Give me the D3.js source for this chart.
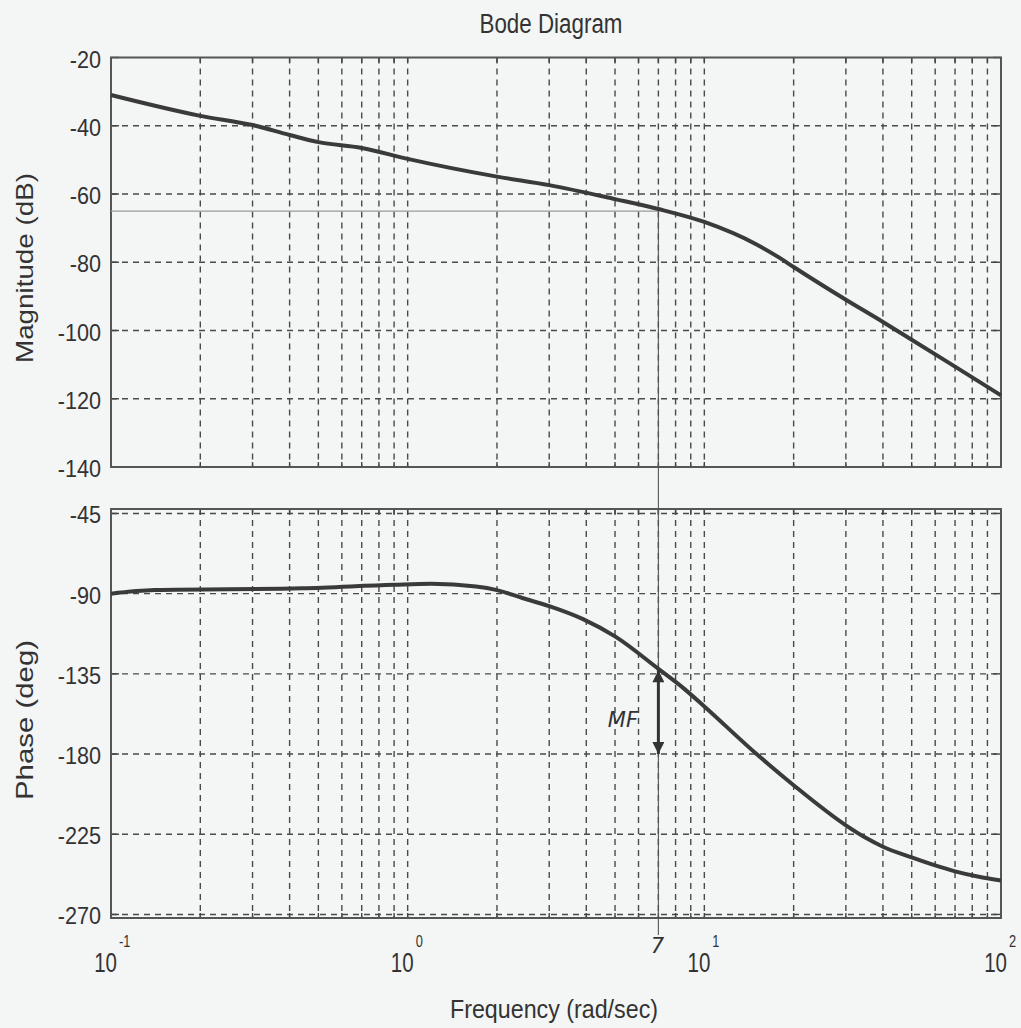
<!DOCTYPE html>
<html>
<head>
<meta charset="utf-8">
<script src="https://cdn.jsdelivr.net/npm/d3@7"></script>
<style>
  body { margin: 0; background: #f3f6f5; }
  svg { display: block; }
  text { font-family: "Liberation Sans", Arial, sans-serif; fill: #333; }
</style>
</head>
<body>
<script>
// page size
var w = 1021;
var h = 1028;

// Magnitude curve
var magFreq = [0.1, 0.2, 0.3, 0.4, 0.5, 0.7, 1, 2, 3, 5, 7, 10, 15, 18, 20, 30, 40, 50, 70, 100];
var magDb = [-31, -37.1, -39.8, -42.7, -44.8, -46.5, -49.7, -54.9, -57.4, -61.5, -64.4, -68.2, -74.8, -78.8, -81.4, -91, -97.5, -102.7, -110.6, -119];

// Phase curve
var phaseFreq = [0.1, 0.14, 0.44, 0.9, 1.2, 1.7, 2, 2.45, 3, 3.9, 5, 7, 8.5, 10, 15, 20, 30, 35, 40, 50, 60, 70, 85, 100];
var phaseDeg = [-90, -88, -87, -85, -84.5, -86, -88, -92.6, -97, -104.3, -114, -132.2, -143, -153.3, -180, -197.5, -220, -227, -232, -238, -242.5, -245.8, -249, -251];

// Ticks
var magTicks = [-20, -40, -60, -80, -100, -120, -140];
var phaseTicks = [-45, -90, -135, -180, -225, -270];
var decadeExps = [-1, 0, 1, 2];

// crossover marks
var wc = 7;
var magAtWc = -65;
var mfTop = -133;
var mfBottom = -180;

var left = 111, right = 1001;
var magTop = 57.5, magBottom = 467;
var phTop = 509, phBottom = 918;

var svg = d3.select("body").append("svg")
    .attr("width", w)
    .attr("height", h);

var x = d3.scaleLog().domain([0.1, 100]).range([left, right]);
var yMag = d3.scaleLinear().domain([-140, -20]).range([magBottom, magTop]);
var yPh = d3.scaleLinear().domain([-272, -42.5]).range([phBottom, phTop]);

// the scanned fonts are narrow: squeeze text horizontally
function squeeze(sel, k) {
    sel.each(function () {
        var t = d3.select(this);
        t.attr("textLength", this.getComputedTextLength() * k)
            .attr("lengthAdjust", "spacingAndGlyphs");
    });
}

// minor + major frequencies for vertical grid
var gridFreqs = [];
[0.1, 1, 10].forEach(function (dec) {
    for (var k = 1; k <= 9; k++) gridFreqs.push(dec * k);
});
gridFreqs = gridFreqs.filter(function (f) { return f > 0.1 && f < 100; });

function drawPanel(g, y, ticks, y0, y1) {
    var grid = g.append("g")
        .attr("stroke", "#4a4a4a")
        .attr("stroke-width", 1.4)
        .attr("stroke-dasharray", "6,5");

    grid.selectAll(".vgrid")
        .data(gridFreqs)
        .enter().append("line")
        .attr("x1", d => x(d)).attr("x2", d => x(d))
        .attr("y1", y0).attr("y2", y1);

    grid.selectAll(".hgrid")
        .data(ticks.filter(t => y(t) > y0 + 1 && y(t) < y1 - 1))
        .enter().append("line")
        .attr("x1", left).attr("x2", right)
        .attr("y1", d => y(d)).attr("y2", d => y(d));

    // ticks inside the box
    var tk = g.append("g").attr("stroke", "#444").attr("stroke-width", 1.4);
    tk.selectAll(".tl")
        .data(ticks)
        .enter().append("line")
        .attr("x1", left).attr("x2", left + 8)
        .attr("y1", d => y(d)).attr("y2", d => y(d));
    tk.selectAll(".tr")
        .data(ticks)
        .enter().append("line")
        .attr("x1", right - 8).attr("x2", right)
        .attr("y1", d => y(d)).attr("y2", d => y(d));
    tk.selectAll(".tb")
        .data(gridFreqs)
        .enter().append("line")
        .attr("x1", d => x(d)).attr("x2", d => x(d))
        .attr("y1", y1 - 5).attr("y2", y1);
    tk.selectAll(".tt")
        .data(gridFreqs)
        .enter().append("line")
        .attr("x1", d => x(d)).attr("x2", d => x(d))
        .attr("y1", y0).attr("y2", y0 + 5);

    // tick labels
    g.selectAll(".ylab")
        .data(ticks)
        .enter().append("text")
        .attr("x", left - 10)
        .attr("y", d => y(d) + 10)
        .attr("text-anchor", "end")
        .attr("font-size", "24px")
        .text(d => d)
        .call(squeeze, 0.9);

    g.append("rect")
        .attr("x", left).attr("y", y0)
        .attr("width", right - left).attr("height", y1 - y0)
        .attr("fill", "none")
        .attr("stroke", "#555")
        .attr("stroke-width", 2);
}

var magG = svg.append("g");
drawPanel(magG, yMag, magTicks, magTop, magBottom);
var phG = svg.append("g");
drawPanel(phG, yPh, phaseTicks, phTop, phBottom);

// gray -65 dB line and vertical line at wc
svg.append("line")
    .attr("x1", left).attr("x2", x(wc))
    .attr("y1", yMag(magAtWc)).attr("y2", yMag(magAtWc))
    .attr("stroke", "#9a9a9a").attr("stroke-width", 1.2);
svg.append("line")
    .attr("x1", x(wc)).attr("x2", x(wc))
    .attr("y1", yMag(magAtWc)).attr("y2", 935)
    .attr("stroke", "#555").attr("stroke-width", 1.1);

// curves
var magLine = d3.line()
    .x(d => x(d[0])).y(d => yMag(d[1]))
    .curve(d3.curveMonotoneX);
svg.append("path")
    .datum(magFreq.map((f, i) => [f, magDb[i]]))
    .attr("d", magLine)
    .attr("fill", "none")
    .attr("stroke", "#3a3a3a")
    .attr("stroke-width", 4);

var phLine = d3.line()
    .x(d => x(d[0])).y(d => yPh(d[1]))
    .curve(d3.curveMonotoneX);
svg.append("path")
    .datum(phaseFreq.map((f, i) => [f, phaseDeg[i]]))
    .attr("d", phLine)
    .attr("fill", "none")
    .attr("stroke", "#3a3a3a")
    .attr("stroke-width", 4);

// MF arrow
var defs = svg.append("defs");
defs.append("marker")
    .attr("id", "ah")
    .attr("viewBox", "0 0 10 10")
    .attr("refX", 10).attr("refY", 5)
    .attr("markerWidth", 5).attr("markerHeight", 4)
    .attr("markerUnits", "strokeWidth")
    .attr("orient", "auto-start-reverse")
    .append("path")
    .attr("d", "M0,0 L10,5 L0,10 Z")
    .attr("fill", "#333");
svg.append("line")
    .attr("x1", x(wc)).attr("x2", x(wc))
    .attr("y1", yPh(mfTop)).attr("y2", yPh(mfBottom))
    .attr("stroke", "#333").attr("stroke-width", 3)
    .attr("marker-start", "url(#ah)")
    .attr("marker-end", "url(#ah)");
svg.append("text")
    .attr("x", 638)
    .attr("y", 727)
    .attr("text-anchor", "end")
    .attr("font-size", "21px")
    .attr("font-style", "italic")
    .style("font-family", "'DejaVu Sans', sans-serif")
    .style("fill", "#333")
    .text("MF");
svg.append("text")
    .attr("x", x(wc) - 1)
    .attr("y", 953)
    .attr("text-anchor", "middle")
    .attr("font-size", "21px")
    .attr("font-style", "italic")
    .style("font-family", "'DejaVu Sans', sans-serif")
    .style("font-weight", "300")
    .text("7");

// x tick labels 10^n
svg.selectAll(".xbase")
    .data(decadeExps)
    .enter().append("text")
    .attr("x", d => x(Math.pow(10, d)) + 6)
    .attr("y", 972)
    .attr("text-anchor", "end")
    .attr("font-size", "27px")
    .text("10")
    .call(squeeze, 0.76);
svg.selectAll(".xexp")
    .data(decadeExps)
    .enter().append("text")
    .attr("x", d => x(Math.pow(10, d)) + 8)
    .attr("y", 947)
    .attr("text-anchor", "start")
    .attr("font-size", "16px")
    .text(d => d)
    .call(squeeze, 0.8);

// titles
svg.append("text")
    .attr("x", 551)
    .attr("y", 33)
    .attr("text-anchor", "middle")
    .attr("font-size", "27px")
    .attr("textLength", 143)
    .attr("lengthAdjust", "spacingAndGlyphs")
    .text("Bode Diagram");
svg.append("text")
    .attr("x", 554)
    .attr("y", 1018)
    .attr("text-anchor", "middle")
    .attr("font-size", "25px")
    .attr("textLength", 208)
    .attr("lengthAdjust", "spacingAndGlyphs")
    .text("Frequency (rad/sec)");
svg.append("text")
    .attr("transform", "translate(33,268) rotate(-90)")
    .attr("text-anchor", "middle")
    .attr("font-size", "24px")
    .attr("textLength", 190)
    .attr("lengthAdjust", "spacingAndGlyphs")
    .text("Magnitude (dB)");
svg.append("text")
    .attr("transform", "translate(33,720) rotate(-90)")
    .attr("text-anchor", "middle")
    .attr("font-size", "24px")
    .attr("textLength", 160)
    .attr("lengthAdjust", "spacingAndGlyphs")
    .text("Phase (deg)");
</script>
</body>
</html>
